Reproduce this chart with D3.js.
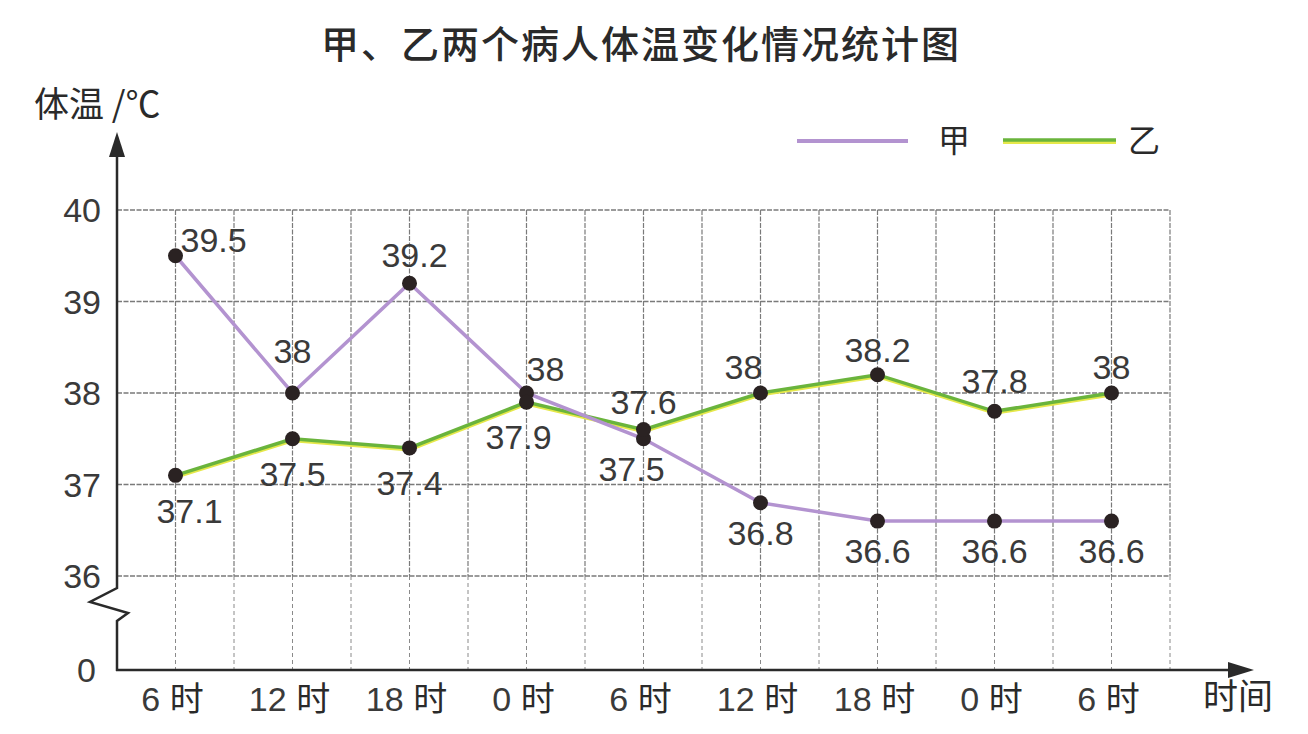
<!DOCTYPE html>
<html>
<head>
<meta charset="utf-8">
<script src="https://d3js.org/d3.v7.min.js"></script>
<style>
  body { margin: 0; background: #fff; }
  .num { font-family: "Liberation Sans", Arial, sans-serif; fill: #3a3a3a; }
  .cjk { font-family: "Noto Sans CJK SC", sans-serif; fill: #2a2a2a; }
</style>
</head>
<body>
<svg id="chart" width="1308" height="734"></svg>
<script>
  // data
  const times = ["6 时", "12 时", "18 时", "0 时", "6 时", "12 时", "18 时", "0 时", "6 时"];
  const jia = [39.5, 38, 39.2, 38, 37.5, 36.8, 36.6, 36.6, 36.6];
  const yi = [37.1, 37.5, 37.4, 37.9, 37.6, 38, 38.2, 37.8, 38];
  const yTicks = [36, 37, 38, 39, 40];

  // where each value label sits relative to its dot [dx, dy, anchor]
  const jiaLabelPos = [[5, -4, "start"], [0, -30, "middle"], [5, -16, "middle"], [0, -12, "start"],
    [-12, 42, "middle"], [0, 42, "middle"], [0, 42, "middle"], [0, 42, "middle"], [0, 42, "middle"]];
  const yiLabelPos = [[14, 48, "middle"], [0, 47, "middle"], [0, 47, "middle"], [-8, 47, "middle"],
    [0, -16, "middle"], [-17, -14, "middle"], [0, -13, "middle"], [0, -18, "middle"], [0, -14, "middle"]];

  const svg = d3.select("#chart");
  const left = 117, right = 1170, baseY = 670;

  const x = d3.scalePoint().domain(d3.range(times.length)).range([left, right]).padding(0.5);
  const y = d3.scaleLinear().domain([36, 40]).range([576, 210]);
  const step = x.step();

  // title
  svg.append("text").attr("class", "cjk")
    .attr("x", 641).attr("y", 58).attr("text-anchor", "middle")
    .attr("font-size", 38).attr("font-weight", 500).attr("letter-spacing", 2)
    .text("甲、乙两个病人体温变化情况统计图");

  // grid
  const grid = svg.append("g").attr("stroke", "#7a7a7a").attr("fill", "none");
  const vx = d3.range(times.length * 2 + 1).map(i => left + i * step / 2);
  grid.selectAll(".vtop").data(vx.slice(1)).join("line")
    .attr("x1", d => d).attr("x2", d => d)
    .attr("y1", y(40)).attr("y2", y(36))
    .attr("stroke-width", 1.2).attr("stroke-dasharray", "5,1.5");
  grid.selectAll(".vbot").data(vx.slice(1)).join("line")
    .attr("x1", d => d).attr("x2", d => d)
    .attr("y1", y(36)).attr("y2", baseY)
    .attr("stroke-width", 1).attr("stroke", "#8a8a8a").attr("stroke-dasharray", "4,3");
  grid.selectAll(".h").data(yTicks).join("line")
    .attr("x1", left).attr("x2", right)
    .attr("y1", d => y(d)).attr("y2", d => y(d))
    .attr("stroke-width", 1.3).attr("stroke-dasharray", "5,1.5");

  // axes
  const ax = svg.append("g").attr("stroke", "#2a2a2a").attr("stroke-width", 2.5).attr("fill", "none");
  ax.append("path").attr("d", `M${left},${y(36)} V588 L90,602 L128,613 L${left},621 V${baseY + 1}`);
  ax.append("line").attr("x1", left).attr("x2", left).attr("y1", y(36)).attr("y2", 150);
  ax.append("line").attr("x1", left - 1).attr("x2", 1240).attr("y1", baseY).attr("y2", baseY);
  svg.append("path").attr("fill", "#2a2a2a").attr("d", `M${left},132 L${left - 8},157 L${left + 8},157 Z`);
  svg.append("path").attr("fill", "#2a2a2a").attr("d", `M1254,${baseY} L1228,${baseY - 8} L1228,${baseY + 8} Z`);

  // y tick labels
  svg.selectAll(".ytick").data(yTicks).join("text").attr("class", "num")
    .attr("x", 101).attr("y", d => y(d) + 12).attr("text-anchor", "end")
    .attr("font-size", 34).text(d => d);
  svg.append("text").attr("class", "num").attr("x", 96).attr("y", baseY + 12)
    .attr("text-anchor", "end").attr("font-size", 34).text("0");

  // x tick labels
  const xt = svg.selectAll(".xtick").data(times).join("text")
    .attr("x", (d, i) => x(i) - 3).attr("y", 711).attr("text-anchor", "middle");
  xt.append("tspan").attr("class", "num").attr("font-size", 34).text(d => d.split(" ")[0] + " ");
  xt.append("tspan").attr("class", "cjk").attr("font-size", 34).text(d => d.split(" ")[1]);

  // axis titles
  svg.append("text").attr("class", "cjk").attr("x", 34).attr("y", 117)
    .attr("font-size", 35).text("体温 /℃");
  svg.append("text").attr("class", "cjk").attr("x", 1203).attr("y", 709)
    .attr("font-size", 35).text("时间");

  // legend
  svg.append("line").attr("x1", 797).attr("x2", 908).attr("y1", 141).attr("y2", 141)
    .attr("stroke", "#b393d0").attr("stroke-width", 4);
  svg.append("text").attr("class", "cjk").attr("x", 938).attr("y", 152).attr("font-size", 32).text("甲");
  svg.append("line").attr("x1", 1003).attr("x2", 1116).attr("y1", 142).attr("y2", 142)
    .attr("stroke", "#e6e84a").attr("stroke-width", 4);
  svg.append("line").attr("x1", 1003).attr("x2", 1116).attr("y1", 140).attr("y2", 140)
    .attr("stroke", "#6ab43c").attr("stroke-width", 3.5);
  svg.append("text").attr("class", "cjk").attr("x", 1128).attr("y", 152).attr("font-size", 32).text("乙");

  // lines
  const line = d3.line().x((d, i) => x(i)).y(d => y(d));
  svg.append("path").datum(yi).attr("d", line).attr("fill", "none")
    .attr("stroke", "#e6e84a").attr("stroke-width", 4).attr("transform", "translate(0,1.5)");
  svg.append("path").datum(yi).attr("d", line).attr("fill", "none")
    .attr("stroke", "#6ab43c").attr("stroke-width", 3.5);
  svg.append("path").datum(jia).attr("d", line).attr("fill", "none")
    .attr("stroke", "#b393d0").attr("stroke-width", 3.5);

  // dots and value labels
  [[jia, jiaLabelPos], [yi, yiLabelPos]].forEach(([vals, pos]) => {
    svg.append("g").selectAll("circle").data(vals).join("circle")
      .attr("cx", (d, i) => x(i)).attr("cy", d => y(d)).attr("r", 7.5)
      .attr("fill", "#2a2222");
    svg.append("g").selectAll("text").data(vals).join("text").attr("class", "num")
      .attr("x", (d, i) => x(i) + pos[i][0]).attr("y", (d, i) => y(d) + pos[i][1])
      .attr("text-anchor", (d, i) => pos[i][2])
      .attr("font-size", 34).text(d => d);
  });
</script>
</body>
</html>
